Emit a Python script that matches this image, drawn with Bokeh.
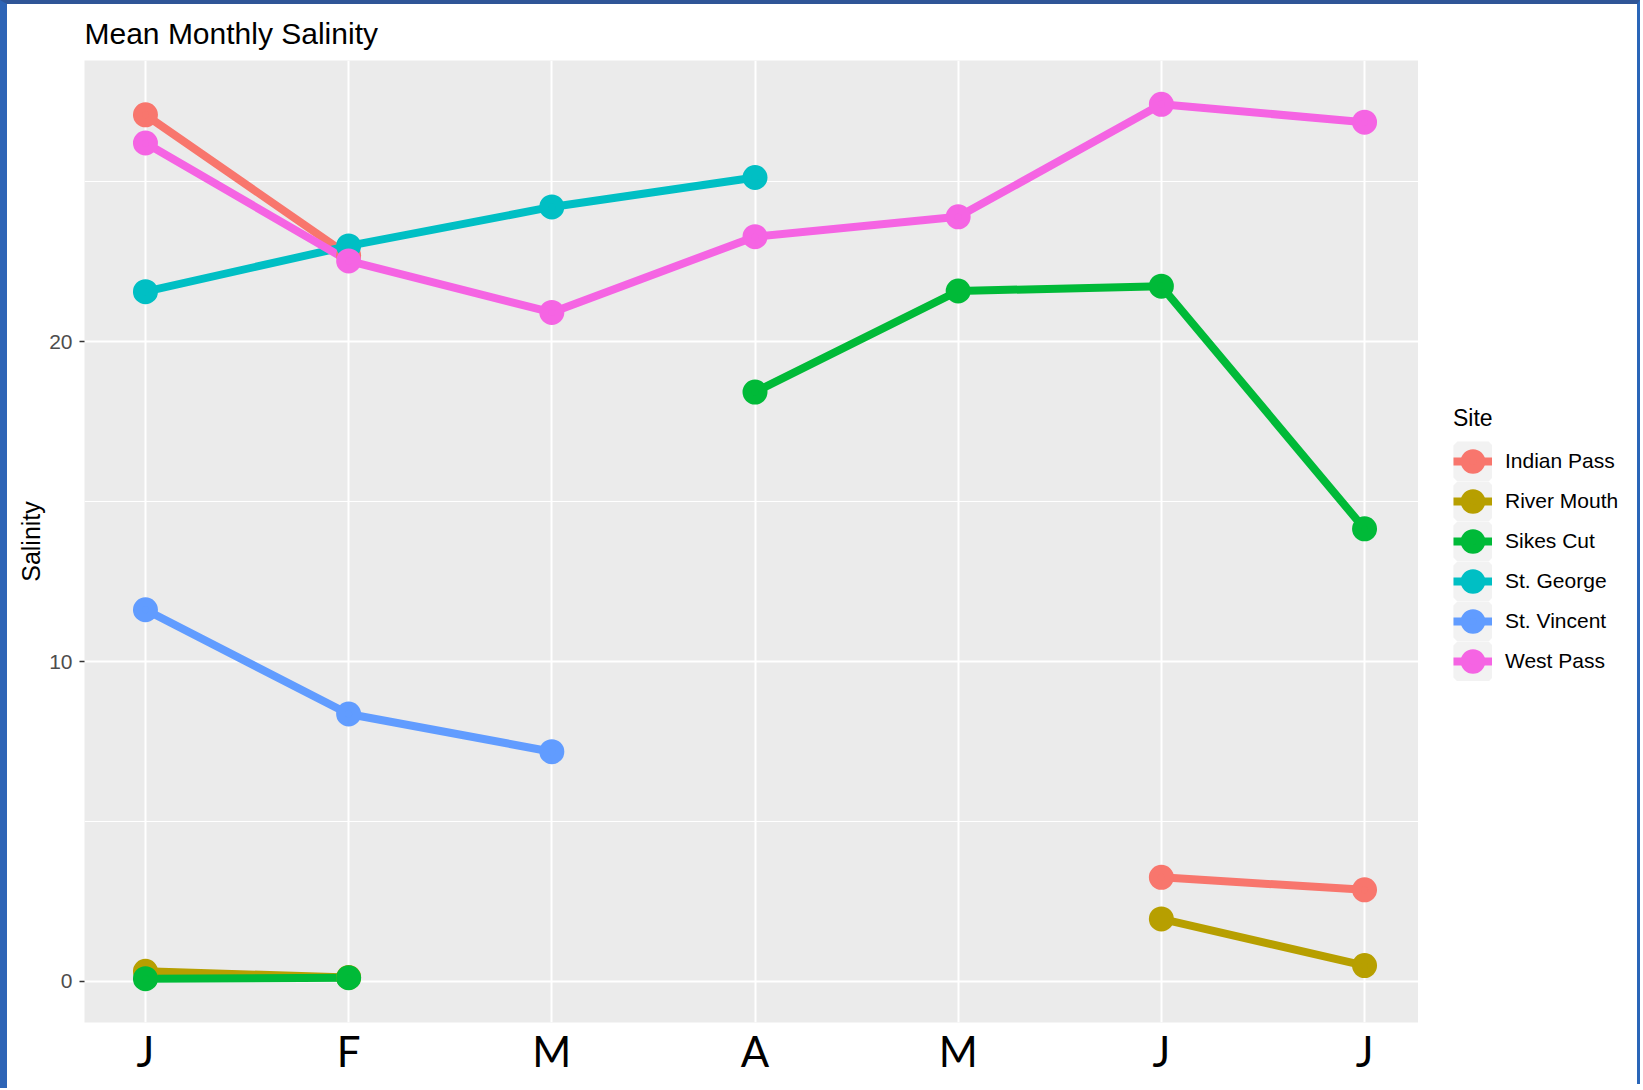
import math
from bokeh.plotting import figure
from bokeh.layouts import row
from bokeh.models import (FixedTicker, SingleIntervalTicker, Legend, LegendItem,
                          ColumnDataSource, Range1d)
from bokeh.embed import file_html
from bokeh.resources import INLINE

nan = float("nan")

# ---- data ----
month_pos = [1, 2, 3, 4, 5, 6, 7]
months = ["Jan", "Feb", "Mar", "Apr", "May", "Jun", "Jul"]
tick_labels = ["J", "F", "M", "A", "M", "J", "J"]

sites = ["Indian Pass", "River Mouth", "Sikes Cut", "St. George", "St. Vincent", "West Pass"]
colors = ["#F8766D", "#B79F00", "#00BA38", "#00BFC4", "#619CFF", "#F564E3"]

indian_pass = [27.10, 22.70, nan, nan, nan, 3.25, 2.86]
river_mouth = [0.31, 0.12, nan, nan, nan, 1.95, 0.49]
sikes_cut = [0.08, 0.11, nan, 18.43, 21.59, 21.74, 14.15]
st_george = [21.57, 23.00, 24.22, 25.14, nan, nan, nan]
st_vincent = [11.62, 8.36, 7.18, nan, nan, nan, nan]
west_pass = [26.22, 22.53, 20.92, 23.29, 23.91, 27.43, 26.87]

series = [indian_pass, river_mouth, sikes_cut, st_george, st_vincent, west_pass]

LINE_W = 8
PT_SIZE = 16
PT_LINE_W = 9

p = figure(frame_width=1334, frame_height=958,
           x_range=Range1d(0.7, 7.3), y_range=Range1d(-1.29, 28.8),
           output_backend="svg", toolbar_location=None,
           min_border_left=77, min_border_top=56, min_border_right=0,
           min_border_bottom=70)

p.styles = {"border-left": "7px solid #2D64B6",
            "border-top": "4px solid #2F5597"}

p.background_fill_color = "#EBEBEB"
p.border_fill_color = "white"
p.outline_line_color = None

# title
p.title.text = "Mean Monthly Salinity"
p.title.text_font = "Liberation Sans"
p.title.text_font_size = "30px"
p.title.text_font_style = "normal"
p.title.text_color = "black"
p.title.align = "left"
p.title.standoff = 21

# axes / grid
xt = FixedTicker(ticks=month_pos)
p.xaxis.ticker = xt
p.xgrid.ticker = xt
p.xaxis.major_label_overrides = {m: t for m, t in zip(month_pos, tick_labels)}
p.xaxis.axis_line_color = None
p.xaxis.major_tick_line_color = None
p.xaxis.minor_tick_line_color = None
p.xaxis.major_tick_out = 0
p.xaxis.major_label_standoff = 3
p.xaxis.major_label_text_font = "Lato"
p.xaxis.major_label_text_font_size = "42px"
p.xaxis.major_label_text_color = "black"

yt = SingleIntervalTicker(interval=10, num_minor_ticks=2)
p.yaxis.ticker = yt
p.ygrid.ticker = yt
p.yaxis.axis_line_color = None
p.yaxis.major_tick_line_color = "#333333"
p.yaxis.major_tick_line_width = 1.5
p.yaxis.major_tick_out = 5
p.yaxis.major_tick_in = 0
p.yaxis.minor_tick_line_color = None
p.yaxis.major_label_standoff = 7
p.yaxis.major_label_text_font = "Liberation Sans"
p.yaxis.major_label_text_font_size = "21px"
p.yaxis.major_label_text_color = "#4D4D4D"
p.yaxis.axis_label = "Salinity"
p.yaxis.axis_label_text_font = "Liberation Sans"
p.yaxis.axis_label_text_font_size = "25px"
p.yaxis.axis_label_text_font_style = "normal"
p.yaxis.axis_label_text_color = "black"
p.yaxis.axis_label_standoff = 1

p.xgrid.grid_line_color = "white"
p.xgrid.grid_line_width = 2
p.ygrid.grid_line_color = "white"
p.ygrid.grid_line_width = 2
p.ygrid.minor_grid_line_color = "white"
p.ygrid.minor_grid_line_width = 1.1

srcs = []
for vals in series:
    srcs.append(ColumnDataSource(dict(x=month_pos, y=vals)))

for src, c in zip(srcs, colors):
    p.line("x", "y", source=src, line_color=c, line_width=LINE_W,
           line_join="round")
for src, c in zip(srcs, colors):
    p.scatter("x", "y", source=src, size=PT_SIZE, fill_color=c,
              line_color=c, line_width=PT_LINE_W)

# ---- legend panel (separate canvas to the right of the plot) ----
lf = figure(width=222, height=1084, x_range=Range1d(0, 1), y_range=Range1d(0, 1),
            output_backend="svg", toolbar_location=None,
            x_axis_location=None, y_axis_location=None,
            min_border=0, min_border_left=0, min_border_right=0,
            min_border_top=0, min_border_bottom=0)
lf.styles = {"border-top": "4px solid #2F5597",
             "border-right": "3px solid #2A66B8"}
lf.grid.visible = False
lf.outline_line_color = None
lf.background_fill_color = "white"
lf.border_fill_color = "white"

# legend key swatches: renderers with no drawable data, used only for the legend
key_bg = lf.quad(left=[nan], right=[nan], top=[nan], bottom=[nan],
                 fill_color="#F2F2F2", line_color="#F2F2F2", line_width=8)
items = []
for name, c in zip(sites, colors):
    kl = lf.line(x=[nan], y=[nan], line_color=c, line_width=LINE_W)
    ks = lf.scatter(x=[nan], y=[nan], size=PT_SIZE, fill_color=c,
                    line_color=c, line_width=PT_LINE_W)
    items.append(LegendItem(label=name, renderers=[key_bg, kl, ks]))

legend = Legend(items=items, location=(35, 337), orientation="vertical",
                title="Site", title_text_font="Liberation Sans",
                title_text_font_size="23px", title_text_font_style="normal",
                title_text_color="black", title_standoff=9,
                label_text_font="Liberation Sans", label_text_font_size="21px",
                label_text_color="black",
                glyph_width=39, glyph_height=40, label_height=40,
                spacing=0, label_standoff=13, padding=10, margin=0,
                border_line_color=None, background_fill_alpha=0)
lf.add_layout(legend, "center")

layout = row(p, lf)
open("out.html", "w").write(file_html(layout, INLINE))
